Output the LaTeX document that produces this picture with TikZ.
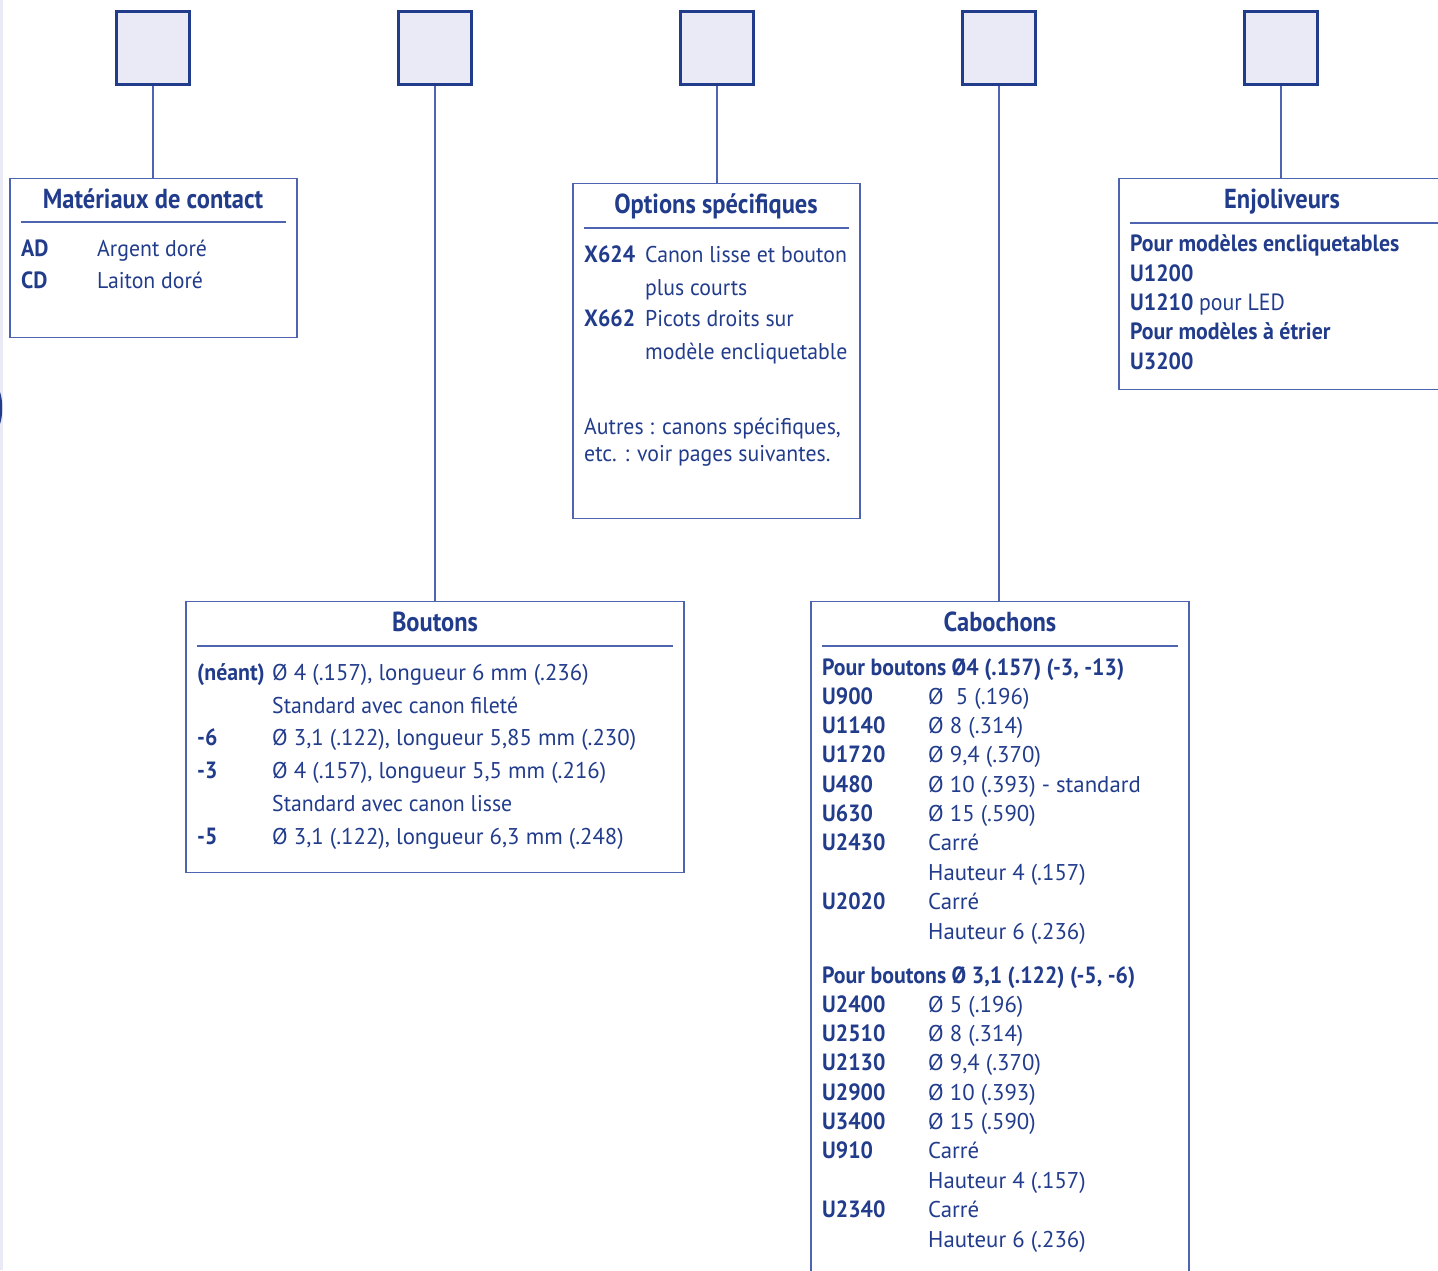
\documentclass[tikz,border=0pt]{standalone}
\usepackage{fontspec}
\setmainfont{PT Sans}
\newfontfamily\headfont{PT Sans}[FakeStretch=0.89]
\newfontfamily\codefont{PT Sans}[FakeStretch=0.93]
\newfontfamily\wordfont{PT Sans}[FakeStretch=0.955]
\definecolor{ink}{RGB}{34,60,140}
\definecolor{rim}{RGB}{78,100,176}
\definecolor{tint}{RGB}{234,234,247}
\tikzset{
  pick/.style={draw=ink, line width=2.6pt, fill=tint, minimum width=73pt, minimum height=73pt, inner sep=0pt},
  panel/.style={draw=rim, line width=1.3pt, anchor=north, inner sep=0pt},
  wire/.style={draw=rim, line width=1.3pt},
  head/.style={text=ink, font=\headfont\fontsize{27.5}{30}\selectfont\bfseries, anchor=base, inner sep=0pt},
  code/.style={text=ink, font=\codefont\fontsize{23.5}{26}\selectfont\bfseries, anchor=base west, inner sep=0pt},
  txt/.style={text=ink, font=\fontsize{22.8}{26}\selectfont, anchor=base west, inner sep=0pt},
  word/.style={txt, font=\wordfont\fontsize{22.8}{26}\selectfont},
}
\begin{document}
\begin{tikzpicture}[x=1pt,y=-1pt]
  \useasboundingbox (0,0) rectangle (1438,1270);
  \clip (0,0) rectangle (1438,1270);
  % page edge
  \fill[tint] (0,0) rectangle (3,1270);
  \fill[ink] (0,392) .. controls (3,400) and (3,416) .. (0,424) -- cycle;

  % selection squares
  \node[pick] (s1) at (153,48) {};
  \node[pick] (s2) at (435,48) {};
  \node[pick] (s3) at (717,48) {};
  \node[pick] (s4) at (999,48) {};
  \node[pick] (s5) at (1281,48) {};

  % panels
  \node[panel, minimum width=287pt, minimum height=159pt] (mat) at (153.5,178) {};
  \node[panel, minimum width=287pt, minimum height=335pt] (opt) at (716.5,183) {};
  \node[panel, minimum width=341pt, minimum height=211pt] (enj) at (1289.5,178) {};
  \node[panel, minimum width=498pt, minimum height=271pt] (bou) at (435,601) {};
  \node[panel, minimum width=378pt, minimum height=700pt] (cab) at (1000,601) {};

  \begin{scope}[wire]
    \draw (s1.south) -- (s1.south |- mat.north);
    \draw (s2.south) -- (s2.south |- bou.north);
    \draw (s3.south) -- (s3.south |- opt.north);
    \draw (s4.south) -- (s4.south |- cab.north);
    \draw (s5.south) -- (s5.south |- enj.north);
    \draw (21,222) -- (286,222);
    \draw (584,228) -- (849,228);
    \draw (1130,223) -- (1438,223);
    \draw (197,646) -- (673,646);
    \draw (822,646) -- (1178,646);
  \end{scope}

  % Materiaux de contact
  \node[head] (matT) at (153,208) {Matériaux de contact};
  \node[code] (ad) at (21,256) {AD};
  \node[word] (adT) at (97,256) {Argent doré};
  \node[code] (cd) at (21,288) {CD};
  \node[word] (cdT) at (97,288) {Laiton doré};

  % Options specifiques
  \node[head] (optT) at (716,213) {Options spécifiques};
  \node[code] (x624) at (584,262) {X624};
  \node[word] (x624a) at (645,262) {Canon lisse et bouton};
  \node[word] (x624b) at (645,295) {plus courts};
  \node[code] (x662) at (584,326) {X662};
  \node[word] (x662a) at (645,326) {Picots droits sur};
  \node[word] (x662b) at (645,359) {modèle encliquetable};
  \node[word] (aut1) at (584,434) {Autres : canons spécifiques,};
  \node[word] (aut2) at (584,461) {etc. : voir pages suivantes.};

  % Enjoliveurs
  \node[head] (enjT) at (1282,208) {Enjoliveurs};
  \node[code] (e1) at (1130,251) {Pour modèles encliquetables};
  \node[code] (e2) at (1130,281) {U1200};
  \node[code] (e3) at (1130,310) {U1210 \mdseries pour LED};
  \node[code] (e4) at (1130,339) {Pour modèles à étrier};
  \node[code] (e5) at (1130,369) {U3200};

  % Boutons
  \node[head] (bouT) at (435,631) {Boutons};
  \node[code] (b0) at (197,680) {(néant)};
  \node[txt] (b0a) at (272,680) {Ø 4 (.157), longueur 6 mm (.236)};
  \node[word] (b0b) at (272,713) {Standard avec canon fileté};
  \node[code] (b6) at (197,745) {-6};
  \node[txt] (b6a) at (272,745) {Ø 3,1 (.122), longueur 5,85 mm (.230)};
  \node[code] (b3) at (197,778) {-3};
  \node[txt] (b3a) at (272,778) {Ø 4 (.157), longueur 5,5 mm (.216)};
  \node[word] (b3b) at (272,811) {Standard avec canon lisse};
  \node[code] (b5) at (197,844) {-5};
  \node[txt] (b5a) at (272,844) {Ø 3,1 (.122), longueur 6,3 mm (.248)};

  % Cabochons
  \node[head] (cabT) at (1000,631) {Cabochons};
  \node[code] (c0) at (822,675) {Pour boutons Ø4 (.157) (-3, -13)};
  \node[code] (c1) at (822,704) {U900};
  \node[txt] (c1a) at (928,704) {Ø\ \ 5 (.196)};
  \node[code] (c2) at (822,733) {U1140};
  \node[txt] (c2a) at (928,733) {Ø 8 (.314)};
  \node[code] (c3) at (822,762) {U1720};
  \node[txt] (c3a) at (928,762) {Ø 9,4 (.370)};
  \node[code] (c4) at (822,792) {U480};
  \node[txt] (c4a) at (928,792) {Ø 10 (.393) - standard};
  \node[code] (c5) at (822,821) {U630};
  \node[txt] (c5a) at (928,821) {Ø 15 (.590)};
  \node[code] (c6) at (822,850) {U2430};
  \node[txt] (c6a) at (928,850) {Carré};
  \node[txt] (c6b) at (928,880) {Hauteur 4 (.157)};
  \node[code] (c7) at (822,909) {U2020};
  \node[txt] (c7a) at (928,909) {Carré};
  \node[txt] (c7b) at (928,939) {Hauteur 6 (.236)};
  \node[code] (d0) at (822,983) {Pour boutons Ø 3,1 (.122) (-5, -6)};
  \node[code] (d1) at (822,1012) {U2400};
  \node[txt] (d1a) at (928,1012) {Ø 5 (.196)};
  \node[code] (d2) at (822,1041) {U2510};
  \node[txt] (d2a) at (928,1041) {Ø 8 (.314)};
  \node[code] (d3) at (822,1070) {U2130};
  \node[txt] (d3a) at (928,1070) {Ø 9,4 (.370)};
  \node[code] (d4) at (822,1100) {U2900};
  \node[txt] (d4a) at (928,1100) {Ø 10 (.393)};
  \node[code] (d5) at (822,1129) {U3400};
  \node[txt] (d5a) at (928,1129) {Ø 15 (.590)};
  \node[code] (d6) at (822,1158) {U910};
  \node[txt] (d6a) at (928,1158) {Carré};
  \node[txt] (d6b) at (928,1188) {Hauteur 4 (.157)};
  \node[code] (d7) at (822,1217) {U2340};
  \node[txt] (d7a) at (928,1217) {Carré};
  \node[txt] (d7b) at (928,1247) {Hauteur 6 (.236)};
\end{tikzpicture}
\end{document}
